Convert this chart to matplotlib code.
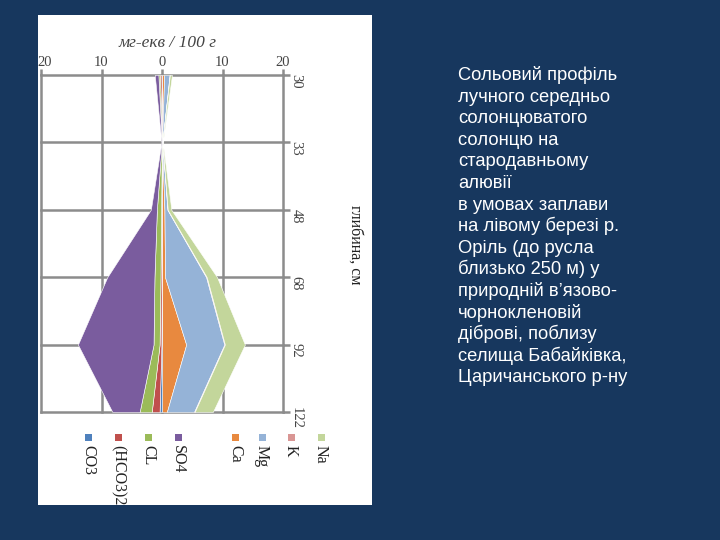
import matplotlib
matplotlib.use('Agg')
import matplotlib.pyplot as plt
from matplotlib.patches import Rectangle
import matplotlib.transforms as mtrans
import numpy as np

# ---------------- data ----------------
depth_labels = ["30", "33", "48", "68", "92", "122"]
depth_pos = [0, 1, 2, 3, 4, 5]
# cations (drawn to the right, stacked from zero outwards)
Ca = [0.35, 0.02, 0.4, 0.5, 4.0, 0.8]
Mg = [0.9, 0.05, 0.5, 6.8, 6.3, 4.5]
K = [0.05, 0.0, 0.05, 0.1, 0.1, 0.1]
Na = [0.35, 0.05, 0.6, 1.7, 3.3, 3.0]
# anions (drawn to the left, stacked from zero outwards)
CO3 = [0.1, 0.0, 0.05, 0.05, 0.1, 0.4]
HCO3 = [0.25, 0.02, 0.1, 0.2, 0.3, 1.3]
CL = [0.25, 0.02, 0.7, 1.0, 1.0, 2.0]
SO4 = [0.6, 0.05, 1.0, 7.8, 12.5, 4.5]
value_ticks = [-20, -10, 0, 10, 20]
value_labels = ["20", "10", "0", "10", "20"]
legend_names = ["CO3", "(HCO3)2", "CL", "SO4", "Ca", "Mg", "K", "Na"]

colors = {"Na": "#C3D69B", "K": "#D99694", "Mg": "#95B3D7", "Ca": "#E8893F",
          "SO4": "#7A5C9E", "CL": "#9BBB59", "(HCO3)2": "#C0504D", "CO3": "#4F81BD"}

text_lines = ["Сольовий профіль", "лучного середньо", "солонцюватого",
              "солонцю на", "стародавньому", "алювії", "в умовах заплави",
              "на лівому березі р.", "Оріль (до русла", "близько 250 м) у",
              "природній в’язово-", "чорнокленовій", "діброві, поблизу",
              "селища Бабайківка,", "Царичанського р-ну"]

# ---------------- figure ----------------
W, H = 720, 540
fig = plt.figure(figsize=(7.2, 5.4), dpi=100)
fig.patch.set_facecolor('#17375E')

def fx(px):
    return px / W

def fy(py):
    return 1 - py / H

fig.patches.append(Rectangle((fx(38), fy(505)), (372 - 38) / W, (505 - 15) / H,
                             transform=fig.transFigure, facecolor='white',
                             edgecolor='none', zorder=-5))

ax = fig.add_axes([fx(41), fy(412), (283 - 41) / W, (412 - 75) / H])
ax.set_zorder(1)
ax.set_facecolor('white')
ax.set_xlim(-20, 20)
ax.set_ylim(5, 0)
for s in ax.spines.values():
    s.set_visible(False)

grid_c = '#8C8C8C'
for v in value_ticks:
    ax.axvline(v, color=grid_c, lw=1.8, zorder=1, clip_on=False)
for d in depth_pos:
    ax.axhline(d, color=grid_c, lw=1.8, zorder=1, clip_on=False)
ax.set_xticks(value_ticks)
ax.set_yticks(depth_pos)
ax.xaxis.set_ticks_position('top')
ax.yaxis.set_ticks_position('right')
ax.tick_params(axis='x', length=4, width=1.8, color=grid_c, labeltop=False, labelbottom=False)
ax.tick_params(axis='y', length=5, width=1.8, color=grid_c, labelright=False, labelleft=False)

y = np.array(depth_pos, dtype=float)
cum = np.zeros(len(y))
for name, vals in [("Ca", Ca), ("Mg", Mg), ("K", K), ("Na", Na)]:
    v = np.array(vals)
    ax.fill_betweenx(y, cum, cum + v, facecolor=colors[name], edgecolor='white', lw=0.4, zorder=2)
    cum = cum + v
cum = np.zeros(len(y))
for name, vals in [("CO3", CO3), ("(HCO3)2", HCO3), ("CL", CL), ("SO4", SO4)]:
    v = np.array(vals)
    ax.fill_betweenx(y, -cum, -(cum + v), facecolor=colors[name], edgecolor='white', lw=0.4, zorder=2)
    cum = cum + v

serif = 'Liberation Serif'

# value labels along the top
for v, lab in zip(value_ticks, value_labels):
    dx = 4 if v == value_ticks[0] else 0
    tr = mtrans.offset_copy(ax.transData, fig=fig, x=dx, y=13, units='dots')
    ax.text(v, 0, lab, transform=tr, ha='center', va='center',
            fontsize=10.5, family=serif, color='#444444', clip_on=False)

# depth labels on the right
for d, lab in zip(depth_pos, depth_labels):
    tr = mtrans.offset_copy(ax.transData, fig=fig, x=13, y=-6, units='dots')
    ax.text(20, d, lab, transform=tr, rotation=-90, ha='center', va='center',
            fontsize=10.5, family=serif, color='#444444', clip_on=False)

# axis titles
fig.text(fx(355), fy(245), "глибина, см", rotation=-90, ha='center', va='center',
         fontsize=11.5, family=serif, color='#222222')
fig.text(fx(168), fy(43), "мг-екв / 100 г", ha='center', va='center',
         fontsize=12.5, family=serif, style='italic', color='#444444')

# legend
leg_x = [88, 118, 148, 178, 235, 262, 291, 321]
for name, lx in zip(legend_names, leg_x):
    fig.patches.append(Rectangle((fx(lx - 3.5), fy(440.5)), 7 / W, 7 / H,
                                 transform=fig.transFigure, facecolor=colors[name],
                                 edgecolor='none', zorder=3))
    fig.text(fx(lx), fy(445), name, rotation=-90, ha='center', va='top',
             fontsize=11.5, family=serif, color='#222222')

# right-hand description
for i, line in enumerate(text_lines):
    fig.text(fx(458), fy(80 + i * 21.6), line, ha='left', va='baseline',
             fontsize=13.2, family='Liberation Sans', color='white')

fig.savefig('out.png', dpi=100, facecolor=fig.get_facecolor())
